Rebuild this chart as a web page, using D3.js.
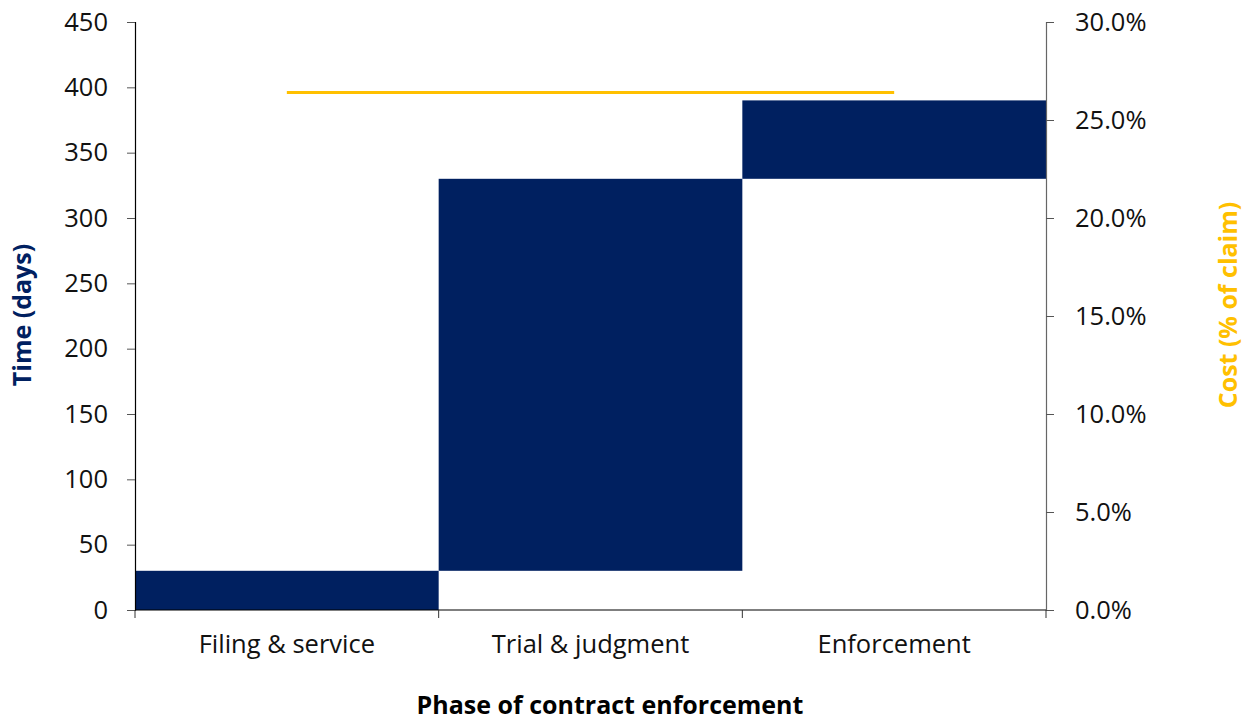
<!DOCTYPE html>
<html>
<head>
<meta charset="utf-8">
<script src="https://cdn.jsdelivr.net/npm/d3@7"></script>
<style>
  html, body { margin: 0; padding: 0; background: #ffffff; }
  svg { display: block; }
  text { font-family: "Open Sans", "Noto Sans", sans-serif; }
</style>
</head>
<body>
<svg id="chart" width="1250" height="722"></svg>
<script>
// Phases of contract enforcement and time spent in each (days)
const phases = ["Filing & service", "Trial & judgment", "Enforcement"];
const phaseDays = [30, 300, 60];
// Total cost as share of the claim
const costPct = 26.4;
const dayTicks = [0, 50, 100, 150, 200, 250, 300, 350, 400, 450];
const pctTicks = [0, 5, 10, 15, 20, 25, 30];

const NAVY = "#002060";
const GOLD = "#FFC000";
const TICK_FS = 25.5;
const TITLE_FS = 25;

const svg = d3.select("#chart");
const m = { left: 135, right: 204, top: 22, bottom: 112 };
const W = 1250, H = 722;
const x0 = m.left, x1 = W - m.right, y0 = H - m.bottom, y1 = m.top;

const x = d3.scaleBand().domain(phases).range([x0, x1]).paddingInner(0).paddingOuter(0);
const yDays = d3.scaleLinear().domain([0, 450]).range([y0, y1]);
const yPct = d3.scaleLinear().domain([0, 30]).range([y0, y1]);

// Waterfall segments: each phase starts where the previous one ended
let run = 0;
const segs = phases.map((p, i) => {
  const s = { phase: p, start: run, end: run + phaseDays[i] };
  run += phaseDays[i];
  return s;
});

svg.append("g").selectAll("rect")
  .data(segs)
  .join("rect")
  .attr("x", d => x(d.phase))
  .attr("width", x.bandwidth())
  .attr("y", d => yDays(d.end))
  .attr("height", d => yDays(d.start) - yDays(d.end))
  .attr("fill", NAVY);

// Cost line across category centres
svg.append("line")
  .attr("x1", x(phases[0]) + x.bandwidth() / 2)
  .attr("x2", x(phases[phases.length - 1]) + x.bandwidth() / 2)
  .attr("y1", yPct(costPct))
  .attr("y2", yPct(costPct))
  .attr("stroke", GOLD)
  .attr("stroke-width", 3);

// Left axis (days)
const gL = svg.append("g").attr("transform", `translate(${x0},0)`)
  .call(d3.axisLeft(yDays).tickValues(dayTicks).tickSize(8).tickPadding(19).tickFormat(d3.format("d")));
gL.select(".domain").attr("stroke", "#000").attr("stroke-width", 1.2);
gL.selectAll(".tick line").attr("stroke", "#555");
gL.selectAll(".tick text").attr("font-size", TICK_FS).attr("fill", "#111");

// Right axis (% of claim)
const gR = svg.append("g").attr("transform", `translate(${x1},0)`)
  .call(d3.axisRight(yPct).tickValues(pctTicks).tickSize(8).tickPadding(21).tickFormat(d => d3.format(".1f")(d) + "%"));
gR.select(".domain").attr("stroke", "#666").attr("stroke-width", 1.2);
gR.selectAll(".tick line").attr("stroke", "#555");
gR.selectAll(".tick text").attr("font-size", TICK_FS).attr("fill", "#111");

// Bottom axis with ticks at band boundaries
const gB = svg.append("g").attr("transform", `translate(0,${y0})`);
gB.append("line").attr("x1", x0).attr("x2", x1).attr("stroke", "#000").attr("stroke-width", 1.2);
const bounds = phases.map(p => x(p)).concat([x1]);
gB.selectAll("line.tk").data(bounds).join("line").attr("class", "tk")
  .attr("x1", d => d).attr("x2", d => d).attr("y1", 0).attr("y2", 8)
  .attr("stroke", "#333");
gB.selectAll("text").data(phases).join("text")
  .attr("x", d => x(d) + x.bandwidth() / 2)
  .attr("y", 43)
  .attr("text-anchor", "middle")
  .attr("font-size", TICK_FS)
  .attr("fill", "#111")
  .text(d => d);

// Axis titles
svg.append("text")
  .attr("transform", `translate(${31},${315}) rotate(-90)`)
  .attr("text-anchor", "middle")
  .attr("font-size", TITLE_FS).attr("font-weight", "bold")
  .attr("fill", NAVY)
  .text("Time (days)");

svg.append("text")
  .attr("transform", `translate(${1237},${305}) rotate(-90)`)
  .attr("text-anchor", "middle")
  .attr("font-size", TITLE_FS).attr("font-weight", "bold")
  .attr("fill", GOLD)
  .text("Cost (% of claim)");

svg.append("text")
  .attr("x", 610).attr("y", 714)
  .attr("text-anchor", "middle")
  .attr("font-size", TITLE_FS).attr("font-weight", "bold")
  .attr("fill", "#000")
  .text("Phase of contract enforcement");
</script>
</body>
</html>
